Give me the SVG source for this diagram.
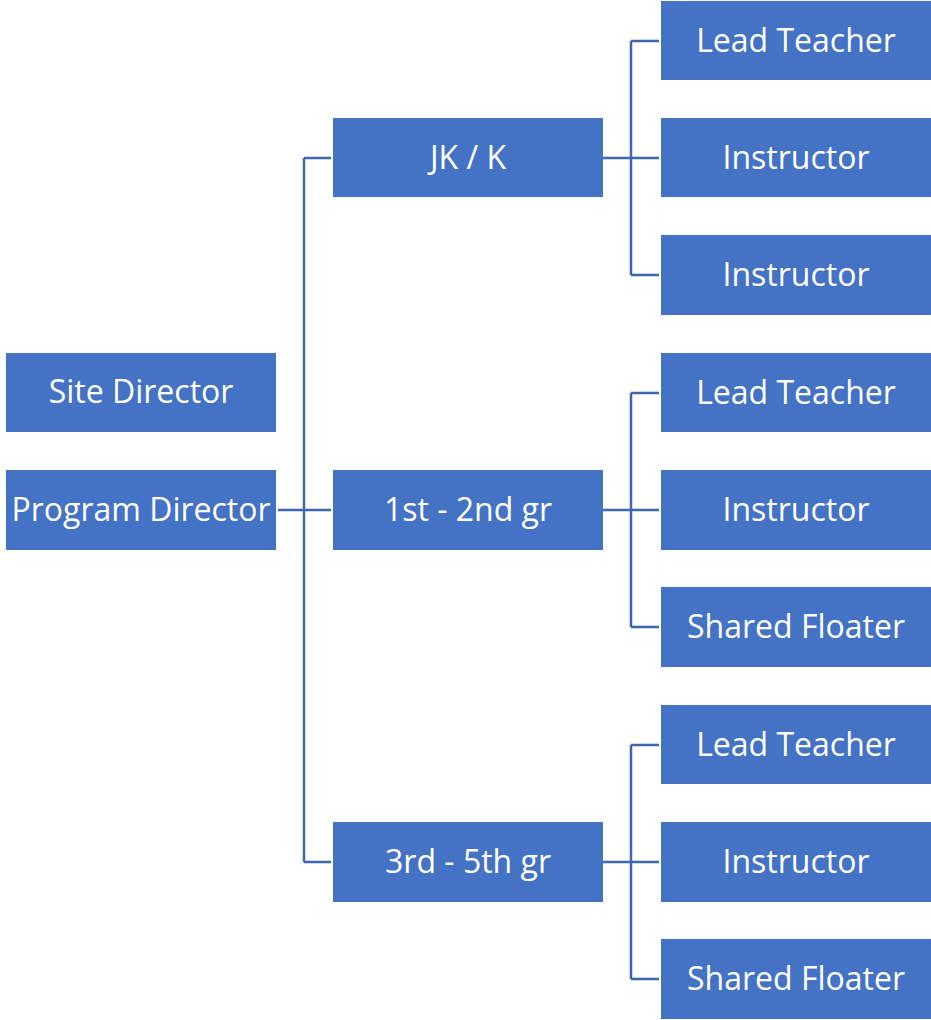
<svg xmlns="http://www.w3.org/2000/svg" width="931" height="1020" viewBox="0 0 931 1020">
<style>
.b{fill:#4472C4;}
.t{fill:#fff;font-family:"Open Sans","Noto Sans",sans-serif;font-size:32px;text-anchor:middle;dominant-baseline:central;}
.c{fill:none;stroke:#3E65AE;stroke-width:2.5;}
</style>
<rect width="931" height="1020" fill="#fff"/>
<g id="connectors">
<path class="c" d="M278 510H331M304 158V862M304 158H331M304 862H331"/>
<path class="c" d="M603 158H659M631 41V275M631 41H659M631 275H659"/>
<path class="c" d="M603 510H659M631 393V627M631 393H659M631 627H659"/>
<path class="c" d="M603 862H659M631 745V979M631 745H659M631 979H659"/>
</g>
<g id="site-director"><rect class="b" x="6" y="353" width="270" height="79"/><text class="t" x="141" y="390">Site Director</text></g>
<g id="program-director"><rect class="b" x="6" y="470" width="270" height="80"/><text class="t" x="141" y="508">Program Director</text></g>
<g id="jk-k"><rect class="b" x="333" y="118" width="270" height="79"/><text class="t" x="468" y="156">JK / K</text></g>
<g id="gr-1-2"><rect class="b" x="333" y="470" width="270" height="80"/><text class="t" x="468" y="508">1st - 2nd gr</text></g>
<g id="gr-3-5"><rect class="b" x="333" y="822" width="270" height="80"/><text class="t" x="468" y="860">3rd - 5th gr</text></g>
<g id="lead-1"><rect class="b" x="661" y="1" width="270" height="79"/><text class="t" x="796" y="39">Lead Teacher</text></g>
<g id="instr-1a"><rect class="b" x="661" y="118" width="270" height="79"/><text class="t" x="796" y="156">Instructor</text></g>
<g id="instr-1b"><rect class="b" x="661" y="235" width="270" height="80"/><text class="t" x="796" y="273">Instructor</text></g>
<g id="lead-2"><rect class="b" x="661" y="353" width="270" height="79"/><text class="t" x="796" y="391">Lead Teacher</text></g>
<g id="instr-2"><rect class="b" x="661" y="470" width="270" height="80"/><text class="t" x="796" y="508">Instructor</text></g>
<g id="floater-2"><rect class="b" x="661" y="587" width="270" height="80"/><text class="t" x="796" y="625">Shared Floater</text></g>
<g id="lead-3"><rect class="b" x="661" y="705" width="270" height="79"/><text class="t" x="796" y="743">Lead Teacher</text></g>
<g id="instr-3"><rect class="b" x="661" y="822" width="270" height="80"/><text class="t" x="796" y="860">Instructor</text></g>
<g id="floater-3"><rect class="b" x="661" y="939" width="270" height="80"/><text class="t" x="796" y="977">Shared Floater</text></g>
</svg>
